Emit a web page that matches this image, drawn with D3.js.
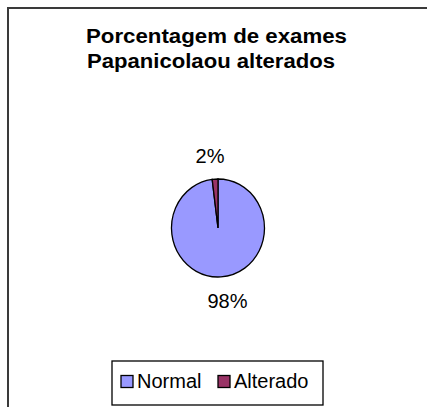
<!DOCTYPE html>
<html><head><meta charset="utf-8">
<script src="https://cdn.jsdelivr.net/npm/d3@7"></script>
<style>body{margin:0;background:#fff}svg{display:block}</style>
</head><body>
<script>
const categories = ["Normal", "Alterado"];
const values = [98, 2];
const labels = ["98%", "2%"];
const colors = ["#9999FF", "#993366"];
const titleLines = ["Porcentagem de exames", "Papanicolaou alterados"];

const W = 427, H = 407;
const svg = d3.select("body").append("svg").attr("width", W).attr("height", H);
svg.append("rect").attr("width", W).attr("height", H).attr("fill", "#fff");
svg.append("rect").attr("x", 8).attr("y", 8).attr("width", 600).attr("height", 600)
  .attr("fill", "none").attr("stroke", "#3a3a3a").attr("stroke-width", 2);

const font = "'Liberation Sans', Arial, sans-serif";
const titleCx = [216.5, 211], titleLen = [261, 248];
svg.selectAll("text.title").data(titleLines).join("text")
  .attr("x", (d, i) => titleCx[i]).attr("y", (d, i) => 43 + i * 25)
  .attr("text-anchor", "middle").attr("font-family", font)
  .attr("font-weight", "bold").attr("font-size", 20)
  .attr("textLength", (d, i) => titleLen[i]).attr("lengthAdjust", "spacingAndGlyphs")
  .text(d => d);

const cx = 218, cy = 228, rx = 46.5, ry = 49;
const pie = d3.pie().sort(null).value(d => d)(values);
const arc = d3.arc().innerRadius(0).outerRadius(rx);
const g = svg.append("g").attr("transform", `translate(${cx},${cy}) scale(1,${ry / rx})`);
g.selectAll("path").data(pie).join("path")
  .attr("d", arc).attr("fill", (d, i) => colors[i])
  .attr("stroke", "#000").attr("stroke-width", 1.3);

const labelPos = [[227.5, 308], [210, 163]];
svg.selectAll("text.lbl").data(labels).join("text")
  .attr("x", (d, i) => labelPos[i][0]).attr("y", (d, i) => labelPos[i][1])
  .attr("text-anchor", "middle").attr("font-family", font)
  .attr("font-size", 20).text(d => d);

const lg = svg.append("g");
lg.append("rect").attr("x", 112).attr("y", 361).attr("width", 211).attr("height", 44)
  .attr("fill", "#fff").attr("stroke", "#000").attr("stroke-width", 1.3);
const itemX = [121, 218];
categories.forEach((c, i) => {
  lg.append("rect").attr("x", itemX[i]).attr("y", 375.5).attr("width", 12).attr("height", 12)
    .attr("fill", colors[i]).attr("stroke", "#000").attr("stroke-width", 1.3);
  lg.append("text").attr("x", itemX[i] + 16).attr("y", 388)
    .attr("font-family", font).attr("font-size", 20).text(c);
});
</script>
</body></html>
